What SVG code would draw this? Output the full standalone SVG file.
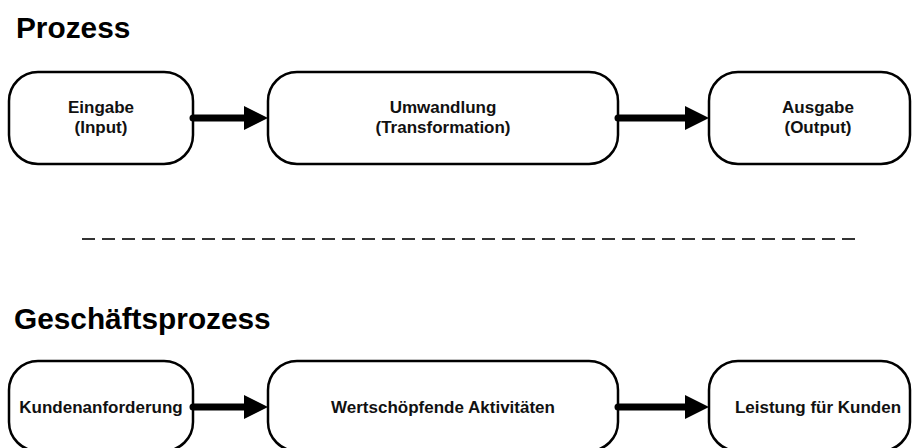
<svg xmlns="http://www.w3.org/2000/svg" width="912" height="448" viewBox="0 0 912 448">
  <style>
    .box { fill: #ffffff; stroke: #000000; stroke-width: 2.5; }
    .title { font-family: "Liberation Sans", Arial, sans-serif; font-weight: bold; font-size: 29.8px; fill: #000000; }
    .label { font-family: "Liberation Sans", Arial, sans-serif; font-weight: bold; font-size: 17px; fill: #111111; text-anchor: middle; }
    .shaft { stroke: #000000; stroke-width: 7; stroke-linecap: round; fill: none; }
    .head { fill: #000000; }
    .divider { stroke: #333333; stroke-width: 2; stroke-dasharray: 13 7; fill: none; }
  </style>

  <rect width="912" height="448" fill="#ffffff"/>

  <!-- section headings -->
  <text class="title" x="16" y="38">Prozess</text>
  <text class="title" x="14" y="329">Geschäftsprozess</text>

  <!-- separator between the two rows -->
  <line class="divider" x1="82" y1="239" x2="855" y2="239"/>

  <!-- top row: generic process -->
  <g id="eingabe">
    <rect class="box" x="9" y="72" width="184" height="92" rx="29" ry="29"/>
    <text class="label" x="101" y="113">Eingabe</text>
    <text class="label" x="101" y="133">(Input)</text>
  </g>
  <g id="umwandlung">
    <rect class="box" x="268" y="72" width="350" height="92" rx="29" ry="29"/>
    <text class="label" x="443" y="113">Umwandlung</text>
    <text class="label" x="443" y="133">(Transformation)</text>
  </g>
  <g id="ausgabe">
    <rect class="box" x="709" y="72" width="201" height="92" rx="29" ry="29"/>
    <text class="label" x="818" y="113">Ausgabe</text>
    <text class="label" x="818" y="133">(Output)</text>
  </g>

  <!-- bottom row: business process -->
  <g id="kundenanforderung">
    <rect class="box" x="9" y="361" width="184" height="90" rx="29" ry="29"/>
    <text class="label" x="101" y="413">Kundenanforderung</text>
  </g>
  <g id="wertschoepfung">
    <rect class="box" x="268" y="361" width="350" height="90" rx="29" ry="29"/>
    <text class="label" x="443" y="413">Wertschöpfende Aktivitäten</text>
  </g>
  <g id="leistung">
    <rect class="box" x="709" y="361" width="201" height="90" rx="29" ry="29"/>
    <text class="label" x="818" y="413">Leistung für Kunden</text>
  </g>

  <!-- connectors -->
  <g id="connectors">
    <line class="shaft" x1="193" y1="118" x2="246" y2="118"/>
    <polygon class="head" points="244,106 268,118 244,130"/>
    <line class="shaft" x1="618" y1="118" x2="686" y2="118"/>
    <polygon class="head" points="685,106 709,118 685,130"/>
    <line class="shaft" x1="193" y1="407" x2="246" y2="407"/>
    <polygon class="head" points="244,395 268,407 244,419"/>
    <line class="shaft" x1="618" y1="407" x2="686" y2="407"/>
    <polygon class="head" points="685,395 709,407 685,419"/>
  </g>
</svg>
